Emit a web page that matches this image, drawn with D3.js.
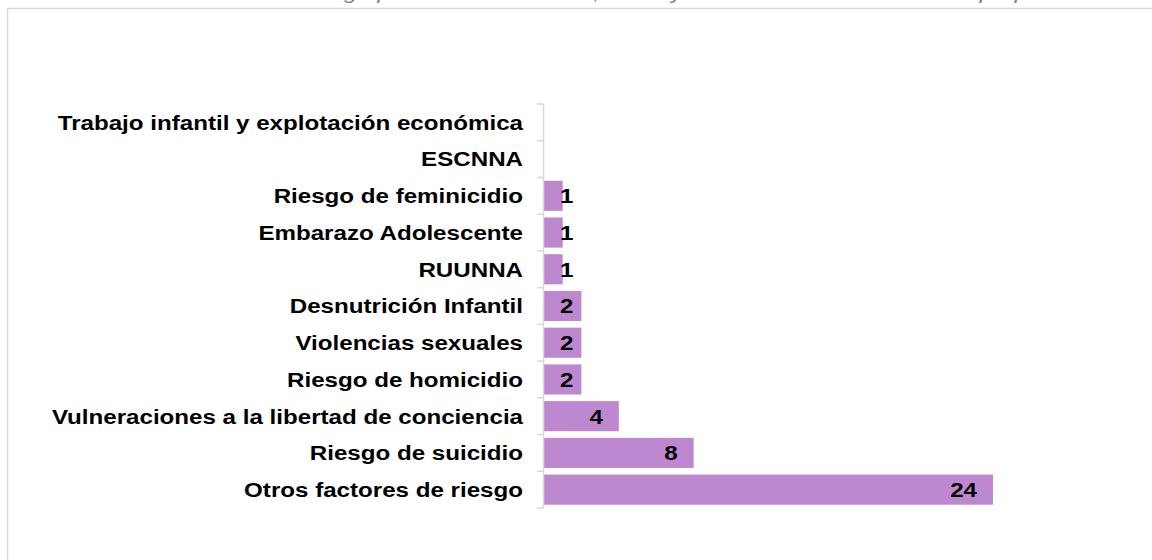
<!DOCTYPE html>
<html>
<head>
<meta charset="utf-8">
<script src="https://cdn.jsdelivr.net/npm/d3@7"></script>
<style>
  html, body { margin: 0; padding: 0; background: #fff; }
  svg { display: block; }
</style>
</head>
<body>
<svg id="chart" width="1152" height="560"></svg>
<script>
// categories top to bottom, as they appear in the chart
const categories = [
  'Trabajo infantil y explotación económica',
  'ESCNNA',
  'Riesgo de feminicidio',
  'Embarazo Adolescente',
  'RUUNNA',
  'Desnutrición Infantil',
  'Violencias sexuales',
  'Riesgo de homicidio',
  'Vulneraciones a la libertad de conciencia',
  'Riesgo de suicidio',
  'Otros factores de riesgo'
];
const values = [0, 0, 1, 1, 1, 2, 2, 2, 4, 8, 24];
const titleText = 'Gráfica 3. Factores de riesgo priorizados en niñas, niños y adolescentes. Elaboración propia';

const style = {
  width: 1152,
  height: 560,
  margin: { top: 104, bottom: 52, left: 543 },
  barWidthMax: 450,
  color: '#be88d0',
  grid: '#d9d9d9',
  fontSize: 21,
  stretch: 1.15 // the source text is drawn a bit wider than Arial
};

const svg = d3.select('#chart');

// outer chart frame, runs past the right and bottom edges
svg.append('rect')
  .attr('x', 7.5)
  .attr('y', 8.5)
  .attr('width', 1200)
  .attr('height', 600)
  .attr('fill', 'none')
  .attr('stroke', style.grid)
  .attr('stroke-width', 1.5);

// title, mostly cut off above the picture
svg.append('text')
  .attr('x', 52)
  .attr('y', -1)
  .attr('fill', '#7f7f7f')
  .style('font', `italic ${style.fontSize}px "Liberation Sans", Arial, sans-serif`)
  .attr('transform', `scale(${style.stretch},1)`)
  .text(titleText);

const y = d3.scaleBand()
  .domain(categories)
  .range([style.margin.top, style.height - style.margin.bottom])
  .paddingInner(0.18)
  .paddingOuter(0.09);

const x = d3.scaleLinear()
  .domain([0, 24])
  .range([style.margin.left + 1, style.margin.left + 1 + 449]);

// bars
svg.append('g')
  .selectAll('rect')
  .data(values)
  .join('rect')
  .attr('x', x(0))
  .attr('y', (d, i) => y(categories[i]))
  .attr('width', (d) => x(d) - x(0))
  .attr('height', y.bandwidth())
  .attr('fill', style.color);

// category axis: line with ticks between bands
const yAxis = svg.append('g').attr('stroke', style.grid).attr('stroke-width', 1.5);
yAxis.append('line')
  .attr('x1', style.margin.left + 0.5)
  .attr('x2', style.margin.left + 0.5)
  .attr('y1', y.range()[0])
  .attr('y2', y.range()[1]);
const boundaries = d3.range(categories.length + 1).map((i) => y.range()[0] + y.step() * i);
yAxis.selectAll('.tick')
  .data(boundaries)
  .join('line')
  .attr('class', 'tick')
  .attr('x1', style.margin.left - 6)
  .attr('x2', style.margin.left + 0.5)
  .attr('y1', (d) => d)
  .attr('y2', (d) => d);

// category labels
svg.append('g')
  .selectAll('text')
  .data(categories)
  .join('text')
  .attr('transform', (d) =>
    `translate(${style.margin.left - 20},${y(d) + y.bandwidth() / 2}) scale(${style.stretch},1)`)
  .attr('dy', '.35em')
  .attr('text-anchor', 'end')
  .attr('fill', '#000')
  .style('font', `bold ${style.fontSize}px "Liberation Sans", Arial, sans-serif`)
  .text((d) => d);

// value labels, inside end of bar, pushed right on short bars
const labels = svg.append('g')
  .selectAll('text')
  .data(values.map((v, i) => ({ v, c: categories[i] })).filter((d) => d.v > 0))
  .join('text')
  .attr('dy', '.35em')
  .attr('text-anchor', 'start')
  .attr('fill', '#000')
  .style('font', `bold ${style.fontSize}px "Liberation Sans", Arial, sans-serif`)
  .text((d) => d.v);

labels.attr('transform', function(d) {
  const w = this.getComputedTextLength() * style.stretch;
  const left = Math.max(x(d.v) - 16 - w, x(0) + 16);
  return `translate(${left},${y(d.c) + y.bandwidth() / 2}) scale(${style.stretch},1)`;
});
</script>
</body>
</html>
